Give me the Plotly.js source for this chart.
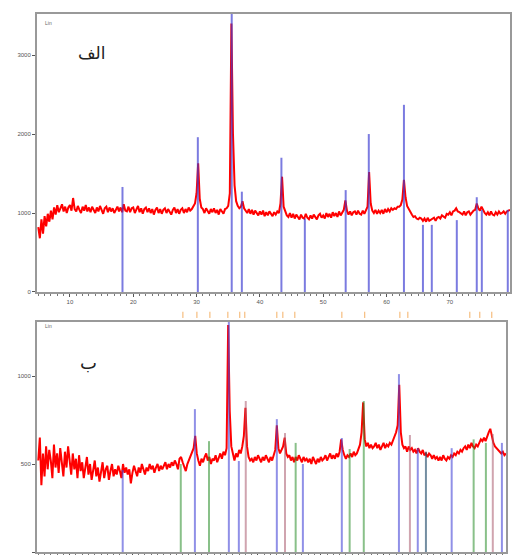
<!DOCTYPE html>
<html>
<head>
<meta charset="utf-8">
<script src="https://cdn.plot.ly/plotly-3.0.1.min.js"></script>
<style>html,body{margin:0;padding:0;background:#fff;}#chart{width:513px;height:555px;}</style>
</head>
<body>
<div id="chart"></div>
<script>
// 2-theta grid (degrees)
const twoTheta = [
5,5.25,5.5,5.75, 6,6.25,6.5,6.75, 7,7.25,7.5,7.75, 8,8.25,8.5,8.75, 9,9.25,9.5,9.75,
10,10.25,10.5,10.75, 11,11.25,11.5,11.75, 12,12.25,12.5,12.75, 13,13.25,13.5,13.75, 14,14.25,14.5,14.75,
15,15.25,15.5,15.75, 16,16.25,16.5,16.75, 17,17.25,17.5,17.75, 18,18.25,18.5,18.75, 19,19.25,19.5,19.75,
20,20.25,20.5,20.75, 21,21.25,21.5,21.75, 22,22.25,22.5,22.75, 23,23.25,23.5,23.75, 24,24.25,24.5,24.75,
25,25.25,25.5,25.75, 26,26.25,26.5,26.75, 27,27.25,27.5,27.75, 28,28.25,28.5,28.75, 29,29.25,29.5,29.75,
30,30.25,30.5,30.75, 31,31.25,31.5,31.75, 32,32.25,32.5,32.75, 33,33.25,33.5,33.75, 34,34.25,34.5,34.75,
35,35.25,35.5,35.75, 36,36.25,36.5,36.75, 37,37.25,37.5,37.75, 38,38.25,38.5,38.75, 39,39.25,39.5,39.75,
40,40.25,40.5,40.75, 41,41.25,41.5,41.75, 42,42.25,42.5,42.75, 43,43.25,43.5,43.75, 44,44.25,44.5,44.75,
45,45.25,45.5,45.75, 46,46.25,46.5,46.75, 47,47.25,47.5,47.75, 48,48.25,48.5,48.75, 49,49.25,49.5,49.75,
50,50.25,50.5,50.75, 51,51.25,51.5,51.75, 52,52.25,52.5,52.75, 53,53.25,53.5,53.75, 54,54.25,54.5,54.75,
55,55.25,55.5,55.75, 56,56.25,56.5,56.75, 57,57.25,57.5,57.75, 58,58.25,58.5,58.75, 59,59.25,59.5,59.75,
60,60.25,60.5,60.75, 61,61.25,61.5,61.75, 62,62.25,62.5,62.75, 63,63.25,63.5,63.75, 64,64.25,64.5,64.75,
65,65.25,65.5,65.75, 66,66.25,66.5,66.75, 67,67.25,67.5,67.75, 68,68.25,68.5,68.75, 69,69.25,69.5,69.75,
70,70.25,70.5,70.75, 71,71.25,71.5,71.75, 72,72.25,72.5,72.75, 73,73.25,73.5,73.75, 74,74.25,74.5,74.75,
75,75.25,75.5,75.75, 76,76.25,76.5,76.75, 77,77.25,77.5,77.75, 78,78.25,78.5,78.75, 79,79.25,79.5
];

// Panel "الف" measured counts
const countsA = [
820,680,920,740, 960,830,990,890, 1030,920,1070,980, 1100,1010,1060,1110, 1020,1080,1000,1070,
1100,1030,1190,1050, 1020,1090,1040,1000, 1080,1030,1100,1020, 1070,1010,1080,1030, 1000,1070,1020,1090,
1050,990,1060,1080, 1010,1070,1020,1060, 1000,1050,1080,1020, 1070,1010,1110,1030, 1020,1080,1010,1060,
1070,1000,1050,1090, 1010,1060,990,1050, 1070,1010,1060,1000, 1050,980,1040,1070, 1000,1050,990,1040,
1060,1000,1050,1010, 980,1040,1070,1000, 1050,990,1040,1060, 1000,1050,1010,1070, 1030,1050,1080,1120,
1250,1630,1180,1070, 1050,1000,1060,1020, 990,1050,1010,1060, 1000,1040,980,1050, 1010,990,1050,1060,
1090,1250,3400,2000, 1350,1150,1090,1060, 1080,1150,1060,1030, 1000,1050,990,1040, 980,1030,990,970,
1020,980,1030,960, 1010,970,1020,980, 960,1010,980,1020, 1000,1120,1460,1080, 1010,970,950,1000,
940,990,930,980, 950,920,980,940, 930,990,940,920, 970,930,980,940, 920,970,990,940,
970,930,1000,950, 990,940,1010,960, 1000,950,1020,970, 1000,1040,1160,1030, 980,1020,970,1010,
1020,980,1030,990, 980,1030,990,1040, 1080,1520,1120,1030, 1000,1040,990,1030, 1000,1040,990,1050,
1010,1050,1020,1060, 1040,1060,1050,1080, 1080,1100,1170,1420, 1200,1090,1050,1000, 980,950,960,930,
920,940,930,900, 930,890,940,900, 910,920,940,900, 940,950,930,970, 960,940,990,980,
1010,970,1020,1030, 1060,1020,1010,1000, 980,1020,970,1010, 1020,980,1010,1030, 1040,1120,1060,1030,
1080,1030,1000,980, 1010,970,1020,980, 970,1010,980,1020, 990,1000,1020,990, 1020,1030,1040
];

// Panel "ب" measured counts
const countsB = [
520,650,380,560, 430,600,470,580, 520,420,610,480, 560,450,590,510, 430,570,480,600,
500,440,560,470, 530,420,550,460, 510,420,480,540, 440,500,410,470, 520,430,480,400,
460,510,420,470, 490,410,460,500, 430,470,440,490, 460,420,500,450, 480,440,470,390,
450,490,460,430, 480,450,500,470, 440,480,460,500, 470,490,450,480, 500,460,490,470,
490,510,470,500, 480,510,490,520, 500,470,530,540, 510,480,460,500, 520,540,560,590,
660,560,520,490, 530,510,540,560, 520,540,500,530, 520,550,510,540, 560,530,570,550,
590,1290,800,600, 560,520,560,540, 580,560,600,660, 820,600,540,520, 530,510,540,520,
550,530,510,540, 520,550,530,510, 540,520,550,580, 720,590,560,580, 600,650,560,540,
550,520,540,510, 540,520,550,530, 510,540,520,530, 510,530,500,540, 520,500,530,510,
540,520,530,550, 520,540,560,530, 550,530,560,540, 570,640,580,550, 530,550,540,560,
540,570,550,560, 580,610,680,850, 640,600,620,590, 610,590,600,620, 590,610,580,600,
620,590,610,600, 620,610,630,650, 680,720,950,680, 610,590,600,570, 600,580,590,570,
580,560,590,570, 560,580,550,560, 540,560,550,530, 550,530,540,520, 540,520,550,530,
520,540,530,550, 540,560,550,570, 560,580,570,590, 600,580,610,590, 620,600,590,610,
600,620,640,630, 650,630,660,680, 700,650,620,600, 590,580,570,560, 570,550,560
];

// Reference stick patterns
const refA_pos = [18.3, 30.2, 35.55, 37.15, 43.4, 47.1, 53.55, 57.2, 62.75, 65.75, 67.15, 71.1, 74.25, 75.05, 79.15];
const refA_int = [1330, 1960, 3520, 1270, 1700, 930, 1290, 2000, 2370, 850, 850, 910, 1200, 1040, 1040];

const refB_blue_pos = [18.45, 29.95, 35.36, 36.95, 43.0, 47.15, 53.35, 62.45, 65.45, 70.85, 78.85];
const refB_blue_int = [466, 812, 1307, 517, 755, 500, 648, 1011, 590, 590, 620];
const refB_teal_pos = [66.75];
const refB_teal_int = [570];
const refB_green_pos = [27.7, 32.2, 46.0, 54.6, 56.85, 74.35, 76.3];
const refB_green_int = [500, 630, 620, 585, 858, 640, 620];
const refB_pink_pos = [38.05, 44.3, 64.2, 77.4];
const refB_pink_int = [858, 676, 665, 670];

const markerB_pos = [28.04, 30.27, 32.34, 35.2, 37.1, 37.9, 43.0, 43.96, 45.87, 53.36, 57.0, 62.6, 63.87, 73.74, 75.33, 77.24];

function sticks(pos, h) {
  const x = [], y = [];
  pos.forEach((p, i) => { x.push(p, p, null); y.push(0, h[i], null); });
  return {x, y};
}

const sA = sticks(refA_pos, refA_int);
const sBb = sticks(refB_blue_pos, refB_blue_int);
const sBt = sticks(refB_teal_pos, refB_teal_int);
const sBg = sticks(refB_green_pos, refB_green_int);
const sBp = sticks(refB_pink_pos, refB_pink_int);
const sM = sticks(markerB_pos, markerB_pos.map(() => 1));

const traces = [
  {x: twoTheta, y: countsA, xaxis: 'x', yaxis: 'y', mode: 'lines', line: {color: '#ff0000', width: 2}, hoverinfo: 'skip'},
  {x: sA.x, y: sA.y, xaxis: 'x', yaxis: 'y', mode: 'lines', line: {color: 'rgba(60,60,210,0.68)', width: 2}, hoverinfo: 'skip'},
  {x: twoTheta, y: countsB, xaxis: 'x2', yaxis: 'y2', mode: 'lines', line: {color: '#ff0000', width: 2}, hoverinfo: 'skip'},
  {x: sBg.x, y: sBg.y, xaxis: 'x2', yaxis: 'y2', mode: 'lines', line: {color: 'rgba(40,140,40,0.55)', width: 2}, hoverinfo: 'skip'},
  {x: sBp.x, y: sBp.y, xaxis: 'x2', yaxis: 'y2', mode: 'lines', line: {color: 'rgba(170,90,110,0.55)', width: 2}, hoverinfo: 'skip'},
  {x: sBt.x, y: sBt.y, xaxis: 'x2', yaxis: 'y2', mode: 'lines', line: {color: 'rgba(40,80,110,0.65)', width: 2}, hoverinfo: 'skip'},
  {x: sBb.x, y: sBb.y, xaxis: 'x2', yaxis: 'y2', mode: 'lines', line: {color: 'rgba(70,70,215,0.6)', width: 2}, hoverinfo: 'skip'},
  {x: sM.x, y: sM.y, xaxis: 'x2', yaxis: 'y3', mode: 'lines', line: {color: 'rgba(240,150,50,0.75)', width: 1}, hoverinfo: 'skip'}
];

const tickFont = {family: 'Liberation Sans, Arial, sans-serif', size: 6, color: '#555'};
const xBase = {
  range: [4.8, 79.5], showline: true, mirror: true, linecolor: '#999', linewidth: 2,
  ticks: 'outside', ticklen: 3, tickcolor: '#555', tickfont: tickFont,
  tickvals: [10, 20, 30, 40, 50, 60, 70], showgrid: false, zeroline: false,
  minor: {dtick: 1, ticks: 'outside', ticklen: 2, tickcolor: '#777', showgrid: false}
};
const yBase = {
  showline: true, mirror: true, linecolor: '#999', linewidth: 2,
  ticks: 'outside', ticklen: 3, tickcolor: '#555', tickfont: tickFont,
  showgrid: false, zeroline: false
};

const layout = {
  width: 513, height: 555,
  margin: {l: 37, r: 3, t: 14, b: 3},
  paper_bgcolor: '#fff', plot_bgcolor: '#fff',
  showlegend: false,
  xaxis: Object.assign({}, xBase, {domain: [0, 1], anchor: 'y'}),
  yaxis: Object.assign({}, yBase, {domain: [0.4833, 1], range: [0, 3520], tickvals: [0, 1000, 2000, 3000], anchor: 'x'}),
  xaxis2: Object.assign({}, xBase, {domain: [0, 0.9915], anchor: 'y2', showticklabels: false}),
  yaxis2: Object.assign({}, yBase, {domain: [0, 0.4275], range: [0, 1307], tickvals: [0, 500, 1000], anchor: 'x2'}),
  yaxis3: {domain: [0.435, 0.447], range: [0, 1], visible: false, anchor: 'x2', fixedrange: true},
  annotations: [
    {text: 'الف', xref: 'paper', yref: 'paper', x: 0.116, y: 0.927, xanchor: 'center', yanchor: 'middle', showarrow: false,
     font: {family: 'DejaVu Sans', size: 17, color: '#222'}},
    {text: 'ب', xref: 'paper', yref: 'paper', x: 0.108, y: 0.353, xanchor: 'center', yanchor: 'middle', showarrow: false,
     font: {family: 'DejaVu Sans', size: 18, color: '#222'}},
    {text: 'Lin', xref: 'paper', yref: 'paper', x: 0.012, y: 0.993, xanchor: 'left', showarrow: false,
     font: {family: 'Liberation Sans', size: 5, color: '#666'}},
    {text: 'Lin', xref: 'paper', yref: 'paper', x: 0.012, y: 0.421, xanchor: 'left', showarrow: false,
     font: {family: 'Liberation Sans', size: 5, color: '#666'}}
  ]
};

Plotly.newPlot('chart', traces, layout, {staticPlot: true, displayModeBar: false});
</script>
</body>
</html>
